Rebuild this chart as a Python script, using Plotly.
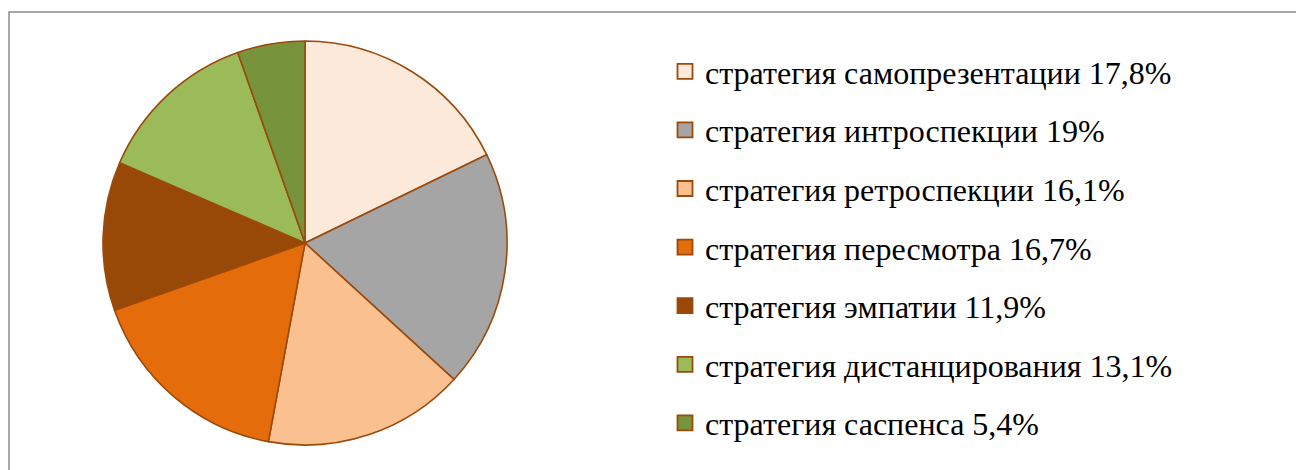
import plotly.graph_objects as go

labels = [
    "стратегия самопрезентации 17,8%",
    "стратегия интроспекции 19%",
    "стратегия ретроспекции 16,1%",
    "стратегия пересмотра 16,7%",
    "стратегия эмпатии 11,9%",
    "стратегия дистанцирования 13,1%",
    "стратегия саспенса 5,4%",
]
values = [17.8, 19.0, 16.1, 16.7, 11.9, 13.1, 5.4]
colors = ["#FDE9D9", "#A5A5A5", "#FAC090", "#E46C0A", "#984807", "#9BBB59", "#77933C"]
edge = "#9C4A0B"

W, H = 1304, 470
off = 8  # page body margin
cx, cy, r = 305 - off, 243 - off, 202

fig = go.Figure()
fig.add_trace(go.Pie(
    labels=labels, values=values, sort=False, direction="clockwise", rotation=0,
    marker=dict(colors=colors, line=dict(color=edge, width=1.6)),
    textinfo="none", hoverinfo="label+value", showlegend=False,
    domain=dict(x=[(cx - r) / W, (cx + r) / W], y=[(H - cy - r) / H, (H - cy + r) / H]),
))
for i, (lab, col) in enumerate(zip(labels, colors)):
    fig.add_trace(go.Scatter(
        x=[None], y=[None], mode="markers", name=lab, legendgroup=f"g{i}",
        marker=dict(symbol="square", size=15, color=col, line=dict(color=edge, width=1.8)),
        showlegend=True,
    ))

fig.update_layout(
    width=W, height=H, margin=dict(l=0, r=0, t=0, b=0),
    paper_bgcolor="white", plot_bgcolor="white",
    xaxis=dict(visible=False), yaxis=dict(visible=False),
    legend=dict(
        x=(685 - off - 20) / W, xanchor="left", y=1 - (44 - off) / H, yanchor="top",
        font=dict(family="Liberation Serif", size=32, color="black"),
        tracegroupgap=14, bgcolor="rgba(0,0,0,0)", itemclick=False,
    ),
    shapes=[dict(type="rect", xref="paper", yref="paper",
                 x0=(9 - off) / W, x1=1.01, y0=-0.02, y1=1 - (12 - off) / H,
                 line=dict(color="#8C8C8C", width=1.5))],
)
fig.write_html("out.html")
